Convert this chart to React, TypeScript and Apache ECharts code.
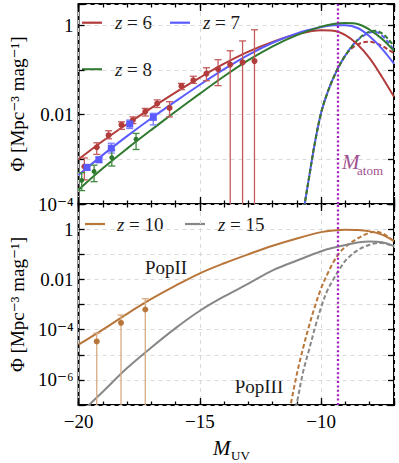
import React, { useEffect, useRef } from 'react';
import * as echarts from 'echarts';

const FONT = '"Liberation Serif", "DejaVu Serif", serif';

// ---------- top panel (z = 6, 7, 8) : log10(Phi) ----------
const M_TOP = [-20, -19, -18, -17, -16, -15, -14, -13, -12, -11, -10, -9.5, -9, -8.5, -8, -7.5, -7];
const LOG_PHI_Z6 = [-3.0, -2.59, -2.21, -1.85, -1.5, -1.17, -0.86, -0.59, -0.37, -0.2, -0.11, -0.12, -0.22, -0.43, -0.74, -1.15, -1.6];
const LOG_PHI_Z7 = [-3.35, -2.9, -2.48, -2.08, -1.7, -1.33, -0.98, -0.66, -0.39, -0.18, -0.04, 0.0, 0.0, -0.06, -0.25, -0.52, -0.86];
const LOG_PHI_Z8 = [-3.68, -3.2, -2.76, -2.34, -1.93, -1.53, -1.14, -0.78, -0.47, -0.22, -0.03, 0.03, 0.05, 0.03, -0.1, -0.3, -0.57];

const M_POP3_TOP = [-10.8, -10.5, -10.25, -10, -9.75, -9.5, -9.25, -9, -8.75, -8.5, -8.25, -8, -7.75, -7.5, -7.25, -7];
const LOG_POP3_Z6 = [-4.4, -3.4, -2.6, -1.95, -1.52, -1.18, -0.9, -0.67, -0.52, -0.43, -0.38, -0.37, -0.4, -0.46, -0.54, -0.62];
const LOG_POP3_Z7 = [-4.4, -3.4, -2.6, -1.95, -1.52, -1.18, -0.9, -0.67, -0.48, -0.33, -0.23, -0.16, -0.15, -0.23, -0.37, -0.56];
const LOG_POP3_Z8 = [-4.4, -3.4, -2.6, -1.95, -1.52, -1.18, -0.9, -0.67, -0.48, -0.33, -0.21, -0.14, -0.12, -0.18, -0.3, -0.47];

// observations: [M_UV, log10 Phi, log10 lower (null = off the axis), log10 upper]
const OBS_Z6: [number, number, number | null, number][] = [
  [-19.76, -3.16, -3.46, -2.97],
  [-19.25, -2.73, -2.89, -2.63],
  [-18.76, -2.46, -2.54, -2.36],
  [-18.23, -2.23, -2.33, -2.16],
  [-17.76, -2.12, -2.2, -2.05],
  [-17.25, -1.93, -2.03, -1.86],
  [-16.76, -1.75, -1.84, -1.67],
  [-16.25, -1.85, -2.05, -1.71],
  [-15.76, -1.36, -1.44, -1.3],
  [-15.27, -1.23, -1.3, -1.14],
  [-14.73, -1.08, -1.24, -0.95],
  [-14.25, -0.98, -1.35, -0.77],
  [-13.75, -0.88, null, -0.57],
  [-13.24, -0.83, null, -0.35],
  [-12.75, -0.8, null, -0.1],
];
const OBS_Z7: [number, number, number | null, number][] = [
  [-19.65, -3.18, -3.24, -3.12],
  [-19.16, -3.01, -3.07, -2.95],
  [-18.65, -2.75, -2.86, -2.64],
  [-17.89, -2.21, -2.31, -2.12],
  [-16.92, -2.06, -2.23, -1.97],
];
const OBS_Z8: [number, number, number | null, number][] = [
  [-19.87, -3.47, -3.7, -3.3],
  [-19.36, -3.27, -3.5, -3.13],
  [-18.63, -2.96, -3.15, -2.79],
  [-17.63, -2.55, -2.78, -2.42],
];

// ---------- bottom panel (z = 10, 15) ----------
const M_BOT = [-20, -19, -18, -17, -16, -15, -14, -13, -12, -11, -10, -9.5, -9, -8.5, -8, -7.5, -7];
const LOG_PHI_Z10 = [-4.6, -4.0, -3.37, -2.78, -2.25, -1.76, -1.36, -1.0, -0.66, -0.37, -0.12, -0.05, -0.02, -0.03, -0.09, -0.22, -0.48];
const LOG_PHI_Z15 = [-7.4, -6.47, -5.53, -4.71, -3.94, -3.25, -2.68, -2.17, -1.64, -1.25, -0.88, -0.74, -0.63, -0.53, -0.49, -0.52, -0.67];

const M_POP3_BOT = [-11.3, -11, -10.75, -10.5, -10.25, -10, -9.75, -9.5, -9.25, -9, -8.75, -8.5, -8.25, -8, -7.75, -7.5, -7.25, -7];
const LOG_POP3_Z10 = [-7.2, -5.75, -4.75, -3.85, -3.05, -2.35, -1.8, -1.32, -0.95, -0.7, -0.52, -0.37, -0.24, -0.14, -0.1, -0.16, -0.3, -0.48];
const LOG_POP3_Z15 = [-8.2, -6.9, -5.7, -4.8, -3.9, -3.1, -2.45, -2.0, -1.6, -1.25, -1.02, -0.84, -0.71, -0.62, -0.56, -0.55, -0.6, -0.69];

const OBS_Z10: [number, number, number | null, number][] = [
  [-19.25, -4.47, null, -4.14],
  [-18.25, -3.73, null, -3.42],
  [-17.25, -3.2, null, -2.77],
];

const M_ATOM = -9.3;
const X_MIN = -20;
const X_MAX = -7;
const TOP_Y = [1e-4, 3];
const BOT_Y = [1e-7, 10];
const Y_TICK_LABELS: Record<string, string> = { '0': '1', '-2': '0.01', '-4': '10⁻⁴', '-6': '10⁻⁶' };
const TOP_LABEL_EXP = [0, -2, -4];
const BOT_LABEL_EXP = [0, -2, -4, -6];
const Y_TITLE = 'Φ [Mpc⁻³ mag⁻¹]';
const LEGEND_TOP = ['6', '7', '8'];
const LEGEND_BOT = ['10', '15'];

const C = {
  z6: '#b23b3b', z6err: '#c45a5a',
  z7: '#5b5bff', z7err: '#7a7aff',
  z8: '#2f7a2f', z8err: '#3f8a3f',
  z10: '#b8763a', z10err: '#d6ab82',
  z15: '#878787',
  atom: '#a21dbf', atomText: '#a0508f',
  grid: '#d9d9d9',
  text: '#1a1a1a',
};

const toPhi = (l: number) => Math.pow(10, l);
const pairs = (ms: number[], ls: number[]) => ms.map((m, i) => [m, toPhi(ls[i])]);

const yLabelFormatter = (exps: number[]) => (v: number) => {
  const l = Math.log10(v);
  const e = Math.round(l);
  if (Math.abs(l - e) > 1e-3 || exps.indexOf(e) < 0) return '';
  return Y_TICK_LABELS[String(e)] || '';
};

const lineSeries = (name: string, ms: number[], ls: number[], color: string, xi: number, yi: number, dashed: boolean, extra: any = {}, dashOffset = 0) => ({
  type: 'line',
  name,
  xAxisIndex: xi,
  yAxisIndex: yi,
  data: pairs(ms, ls),
  symbol: 'none',
  smooth: 0.35,
  silent: true,
  z: dashed ? 3 : 4,
  lineStyle: { color, width: 2, type: dashed ? [4.5, 2.5] : 'solid', dashOffset },
  itemStyle: { color },
  ...extra,
});

const errSeries = (pts: [number, number, number | null, number][], color: string, xi: number, yi: number) => ({
  type: 'custom',
  xAxisIndex: xi,
  yAxisIndex: yi,
  silent: true,
  z: 5,
  encode: { x: 0, y: 1 },
  data: pts.map((p) => [p[0], toPhi(p[1]), p[2] == null ? toPhi(p[1]) : toPhi(p[2]), toPhi(p[3]), p[2] == null ? 1 : 0]),
  renderItem: (params: any, api: any) => {
    const cs = params.coordSys;
    const x = api.value(0);
    const top = api.coord([x, api.value(3)]);
    const lo = api.coord([x, api.value(2)]);
    const open = api.value(4) === 1;
    const bottomEdge = cs.y + cs.height;
    const by = open ? bottomEdge : Math.min(lo[1], bottomEdge);
    const hw = 3.5;
    const st = { stroke: color, lineWidth: 1.3 };
    const children: any[] = [
      { type: 'line', shape: { x1: top[0], y1: top[1], x2: top[0], y2: by }, style: st },
      { type: 'line', shape: { x1: top[0] - hw, y1: top[1], x2: top[0] + hw, y2: top[1] }, style: st },
    ];
    if (!open) children.push({ type: 'line', shape: { x1: top[0] - hw, y1: by, x2: top[0] + hw, y2: by }, style: st });
    return { type: 'group', children };
  },
});

const pointSeries = (pts: [number, number, number | null, number][], color: string, symbol: string, size: number, xi: number, yi: number) => ({
  type: 'scatter',
  xAxisIndex: xi,
  yAxisIndex: yi,
  silent: true,
  z: 6,
  symbol,
  symbolSize: size,
  itemStyle: { color, opacity: 1 },
  data: pts.map((p) => [p[0], toPhi(p[1])]),
});

const atomMarkLine = {
  silent: true,
  symbol: ['none', 'none'],
  label: { show: false },
  lineStyle: { color: C.atom, width: 2.3, type: [2, 2.4] },
  data: [{ xAxis: M_ATOM }],
};

const xAxes = (grid: number, withLabels: boolean) => {
  const tick = (len: number) => ({ show: true, inside: true, length: len, lineStyle: { color: '#000', width: 1.3 } });
  const base = { gridIndex: grid, type: 'value', min: X_MIN, max: X_MAX, axisLine: { show: false } };
  return [
    {
      ...base,
      position: 'bottom',
      interval: 5,
      axisTick: tick(7),
      axisLabel: withLabels
        ? {
            show: true,
            margin: 7,
            fontFamily: FONT,
            fontSize: 19,
            color: '#000',
            formatter: (v: number) => (Math.abs(v % 5) < 1e-9 ? '−' + Math.abs(v) : ''),
          }
        : { show: false },
      splitLine: { show: true, lineStyle: { color: C.grid, type: [4, 4], width: 1 } },
    },
    { ...base, position: 'bottom', interval: 1, axisTick: tick(3.5), axisLabel: { show: false }, splitLine: { show: false } },
    { ...base, position: 'top', interval: 5, axisTick: tick(7), axisLabel: { show: false }, splitLine: { show: false } },
    { ...base, position: 'top', interval: 1, axisTick: tick(3.5), axisLabel: { show: false }, splitLine: { show: false } },
  ];
};

const yAxes = (grid: number, range: number[], exps: number[]) => {
  const base = {
    gridIndex: grid,
    type: 'log',
    logBase: 10,
    min: range[0],
    max: range[1],
    interval: 1,
    axisLine: { show: false },
    axisTick: { show: true, inside: true, length: 6, lineStyle: { color: '#000', width: 1.3 } },
  };
  return [
    {
      ...base,
      position: 'left',
      axisLabel: { show: true, margin: 5, fontFamily: FONT, fontSize: 19, color: '#000', formatter: yLabelFormatter(exps) },
      splitLine: { show: true, lineStyle: { color: C.grid, type: [4, 4], width: 1 } },
      name: Y_TITLE,
      nameLocation: 'middle',
      nameRotate: 90,
      nameGap: 44,
      nameTextStyle: { fontFamily: FONT, fontSize: 19, color: '#000' },
    },
    { ...base, position: 'right', axisLabel: { show: false }, splitLine: { show: false } },
  ];
};

const txt = (text: string, x: number, y: number, size: number, fill: string, italic = false, align = 'left') => ({
  type: 'text',
  x,
  y,
  silent: true,
  style: { text, font: (italic ? 'italic ' : '') + size + 'px ' + FONT, fill, align, verticalAlign: 'middle' },
});

// legend entry: short line + italic "z" + " = N"
const legendItem = (x: number, y: number, color: string, zval: string, textX: number) => [
  { type: 'line', silent: true, shape: { x1: x, y1: y, x2: x + 20, y2: y }, style: { stroke: color, lineWidth: 2.2 } },
  txt('z', textX, y, 19, C.text, true),
  txt('= ' + zval, textX + 12, y, 19, C.text),
];

export default function App() {
  const ref = useRef<HTMLDivElement>(null);
  useEffect(() => {
    document.body.style.margin = '0';
    if (!ref.current) return;
    const chart = echarts.init(ref.current, null, { renderer: 'svg' });
    const option: any = {
      animation: false,
      backgroundColor: '#fff',
      textStyle: { fontFamily: FONT },
      grid: [
        { left: 69, top: 4, width: 325, height: 200, show: true, borderColor: '#000', borderWidth: 2, backgroundColor: 'transparent' },
        { left: 69, top: 204, width: 325, height: 201, show: true, borderColor: '#000', borderWidth: 2, backgroundColor: 'transparent' },
      ],
      xAxis: [...xAxes(0, false), ...xAxes(1, true)],
      yAxis: [...yAxes(0, TOP_Y, TOP_LABEL_EXP), ...yAxes(1, BOT_Y, BOT_LABEL_EXP)],
      series: [
        // top panel
        lineSeries('z = 6', M_TOP, LOG_PHI_Z6, C.z6, 0, 0, false, { markLine: atomMarkLine }),
        lineSeries('z = 7', M_TOP, LOG_PHI_Z7, C.z7, 0, 0, false),
        lineSeries('z = 8', M_TOP, LOG_PHI_Z8, C.z8, 0, 0, false),
        lineSeries('PopIII z = 6', M_POP3_TOP, LOG_POP3_Z6, C.z6, 0, 0, true),
        lineSeries('PopIII z = 7', M_POP3_TOP, LOG_POP3_Z7, C.z7, 0, 0, true, {}, 3.5),
        lineSeries('PopIII z = 8', M_POP3_TOP, LOG_POP3_Z8, C.z8, 0, 0, true),
        errSeries(OBS_Z6, C.z6err, 0, 0),
        errSeries(OBS_Z7, C.z7err, 0, 0),
        errSeries(OBS_Z8, C.z8err, 0, 0),
        pointSeries(OBS_Z6, C.z6, 'circle', 6, 0, 0),
        pointSeries(OBS_Z7, C.z7, 'rect', 7, 0, 0),
        pointSeries(OBS_Z8, C.z8, 'circle', 5, 0, 0),
        // bottom panel
        lineSeries('z = 10', M_BOT, LOG_PHI_Z10, C.z10, 4, 2, false, { markLine: atomMarkLine }),
        lineSeries('z = 15', M_BOT, LOG_PHI_Z15, C.z15, 4, 2, false),
        lineSeries('PopIII z = 10', M_POP3_BOT, LOG_POP3_Z10, C.z10, 4, 2, true),
        lineSeries('PopIII z = 15', M_POP3_BOT, LOG_POP3_Z15, C.z15, 4, 2, true),
        errSeries(OBS_Z10, C.z10err, 4, 2),
        pointSeries(OBS_Z10, C.z10, 'circle', 6, 4, 2),
      ],
      graphic: [
        ...legendItem(82, 22.7, C.z6, LEGEND_TOP[0], 115),
        ...legendItem(170, 22.7, C.z7, LEGEND_TOP[1], 203),
        ...legendItem(82, 69.3, C.z8, LEGEND_TOP[2], 115),
        ...legendItem(85, 224, C.z10, LEGEND_BOT[0], 117),
        ...legendItem(185, 224, C.z15, LEGEND_BOT[1], 218),
        txt('PopII', 166, 267, 19, C.text, false, 'center'),
        txt('PopIII', 259, 386, 19, C.text, false, 'center'),
        txt('M', 342, 162, 21, C.atomText, true),
        txt('atom', 357, 170, 13, C.atomText),
        txt('M', 213, 448, 21, '#000', true),
        txt('UV', 231, 455, 13, '#000'),
      ],
    };
    chart.setOption(option);
    return () => chart.dispose();
  }, []);
  return <div ref={ref} style={{ width: 399, height: 463 }} />;
}
